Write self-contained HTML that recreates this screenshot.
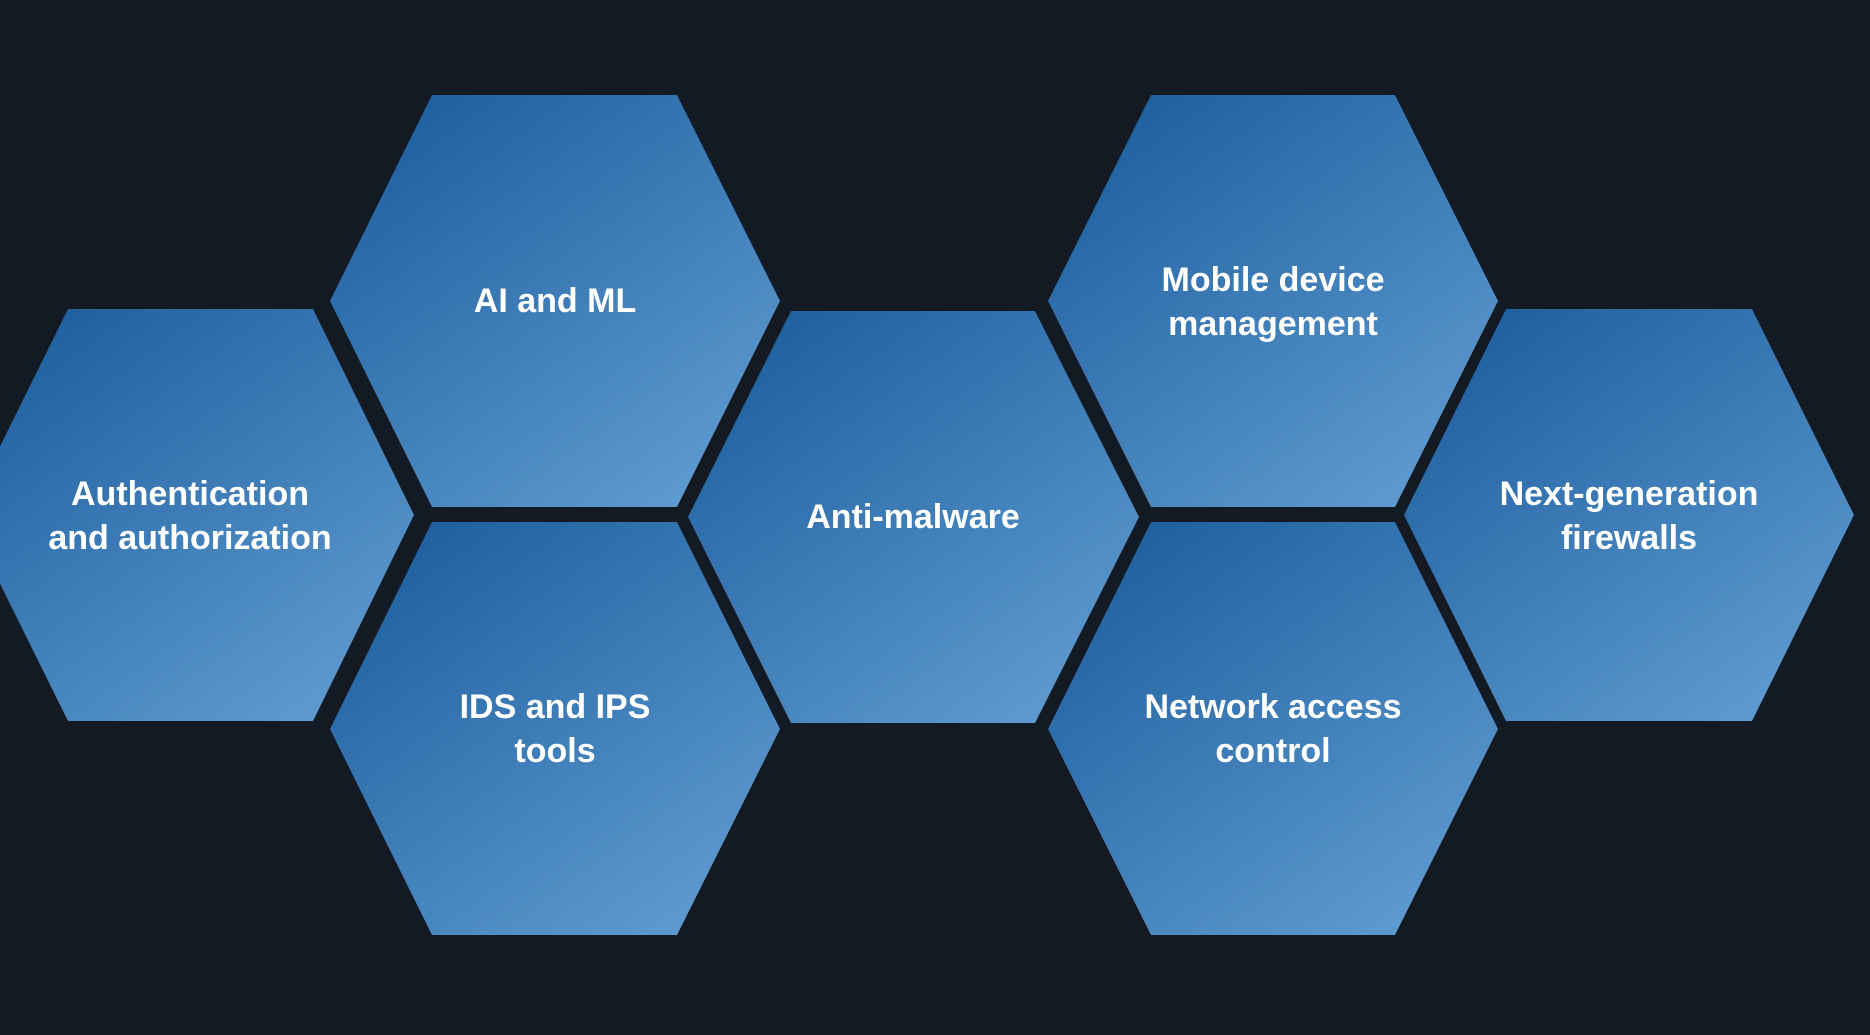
<!DOCTYPE html>
<html><head><meta charset="utf-8"><style>
html,body{margin:0;padding:0;background:#131a23;}
svg{display:block}
text{font-family:"Liberation Sans",Arial,sans-serif;font-weight:bold;font-size:34px;fill:#fff;text-anchor:middle;dominant-baseline:central}
</style></head><body>
<svg width="1870" height="1035" viewBox="0 0 1870 1035">
<defs>
<linearGradient id="g" x1="0.1" y1="0" x2="0.9" y2="1">
<stop offset="0" stop-color="#1b5c9c"/><stop offset="1" stop-color="#629ed3"/>
</linearGradient>
</defs>
<rect width="1870" height="1035" fill="#131a23"/>
<polygon fill="url(#g)" points="68,309 313,309 414,515 313,721 68,721 -34,515"/>
<polygon fill="url(#g)" points="432,95 677,95 780,301 677,507 432,507 330,301"/>
<polygon fill="url(#g)" points="432,522 677,522 780,729 677,935 432,935 330,729"/>
<polygon fill="url(#g)" points="791,311 1035,311 1139,517 1035,723 791,723 688,517"/>
<polygon fill="url(#g)" points="1151,95 1395,95 1498,301 1395,507 1151,507 1048,301"/>
<polygon fill="url(#g)" points="1151,522 1395,522 1498,729 1395,935 1151,935 1048,729"/>
<polygon fill="url(#g)" points="1506,309 1752,309 1854,515 1752,721 1506,721 1404,515"/>
<text x="190" y="494">Authentication</text>
<text x="190" y="538">and authorization</text>
<text x="555" y="301">AI and ML</text>
<text x="555" y="707">IDS and IPS</text>
<text x="555" y="751">tools</text>
<text x="913" y="517">Anti-malware</text>
<text x="1273" y="280">Mobile device</text>
<text x="1273" y="324">management</text>
<text x="1273" y="707">Network access</text>
<text x="1273" y="751">control</text>
<text x="1629" y="494">Next-generation</text>
<text x="1629" y="538">firewalls</text>
</svg>
</body></html>
